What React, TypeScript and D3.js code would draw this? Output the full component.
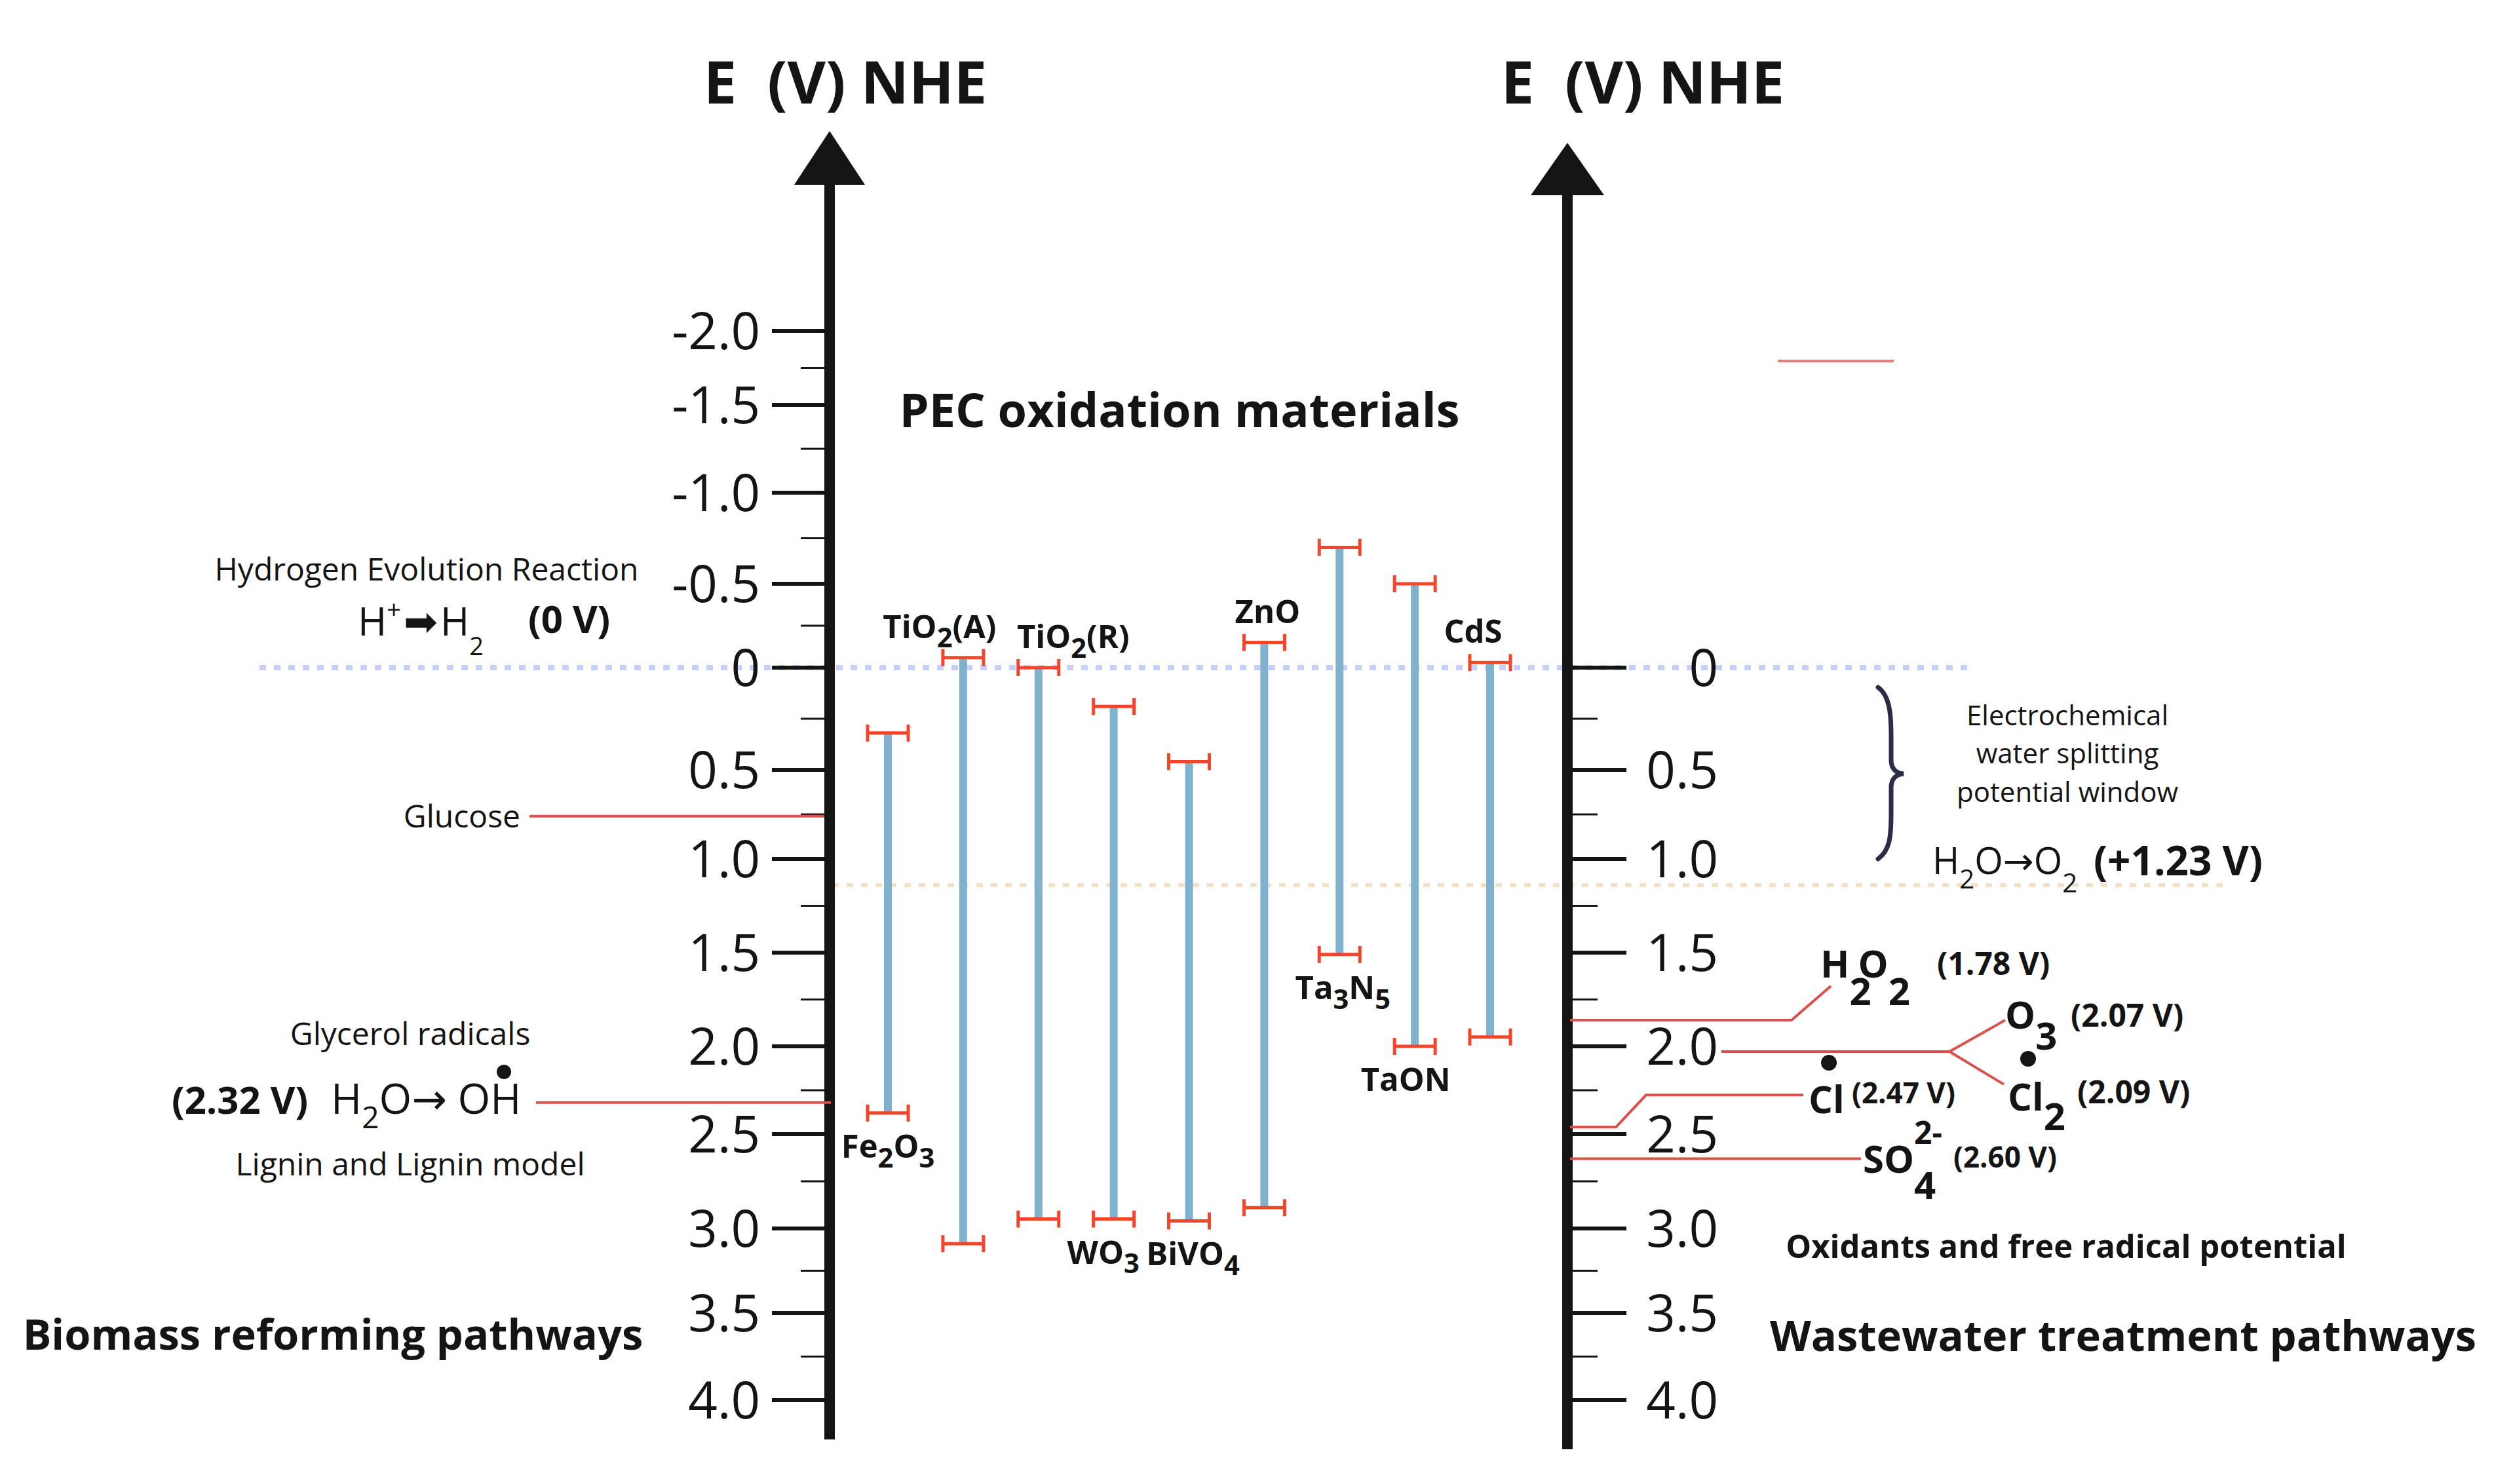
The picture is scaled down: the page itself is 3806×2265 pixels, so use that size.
import React from "react";
import * as d3 from "d3";

// ---------- data ----------
const tickValues = [-2, -1.5, -1, -0.5, 0, 0.5, 1, 1.5, 2, 2.5, 3, 3.5, 4];
const leftTickLabels = ["-2.0", "-1.5", "-1.0", "-0.5", "0", "0.5", "1.0", "1.5", "2.0", "2.5", "3.0", "3.5", "4.0"];
const leftMinorTicks = [-1.75, -1.25, -0.75, -0.25, 0.25, 0.75, 1.25, 1.75, 2.25, 2.75, 3.25, 3.75];
const rightTickValues = [0, 0.5, 1, 1.5, 2, 2.5, 3, 3.5, 4];
const rightTickLabels = ["0", "0.5", "1.0", "1.5", "2.0", "2.5", "3.0", "3.5", "4.0"];
const rightMinorTicks = [0.25, 0.75, 1.25, 1.75, 2.25, 2.75, 3.25, 3.75];

const materials = ["Fe_{2}O_{3}", "TiO_{2}(A)", "TiO_{2}(R)", "WO_{3}", "BiVO_{4}", "ZnO", "Ta_{3}N_{5}", "TaON", "CdS"];
const conductionBand = [0.32, -0.06, 0.0, 0.19, 0.46, -0.15, -0.7, -0.5, -0.03];
const valenceBand = [2.38, 3.09, 2.95, 2.95, 2.96, 2.89, 1.51, 2.0, 1.95];

const biomassSubstrates = ["Glucose", "Glycerol radicals"];
const biomassLevels = [0.76, 2.32];

const oxidants = ["H_{2}O_{2}", "O_{3}", "Cl_{2}", "Cl", "SO_{4}"];
const oxidantPotentialLabels = ["(1.78 V)", "(2.07 V)", "(2.09 V)", "(2.47 V)", "(2.60 V)"];
const oxidantLevels = [1.86, 2.03, 2.03, 2.46, 2.63];

const referenceLevels = [0, 1.14]; // HER line, OER line (as drawn)

// ---------- helpers ----------
const FONT = "'Open Sans', 'Noto Sans', 'DejaVu Sans', sans-serif";
const INK = "#141414";

type Part = { t: string; k: "n" | "sub" | "sup" };
function parseChem(s: string): Part[] {
  const out: Part[] = [];
  const re = /([_^])\{([^}]*)\}/g;
  let last = 0;
  let m: RegExpExecArray | null;
  while ((m = re.exec(s))) {
    if (m.index > last) out.push({ t: s.slice(last, m.index), k: "n" });
    out.push({ t: m[2], k: m[1] === "_" ? "sub" : "sup" });
    last = re.lastIndex;
  }
  if (last < s.length) out.push({ t: s.slice(last), k: "n" });
  return out;
}

function Chem(props: {
  x: number; y: number; s: string; size: number; weight?: number | string;
  anchor?: string; subSize?: number; drop?: number; rise?: number; kern?: number; fill?: string;
}) {
  const { x, y, s, size, weight = 700, anchor = "start", fill = INK } = props;
  const subSize = props.subSize ?? size * 0.85;
  const drop = props.drop ?? size * 0.3;
  const rise = props.rise ?? size * 0.45;
  const kern = props.kern ?? 0;
  const parts = parseChem(s);
  let cur = 0;
  return (
    <text x={x} y={y} fontSize={size} fontWeight={weight} textAnchor={anchor as any} fill={fill} fontFamily={FONT}>
      {parts.map((p, i) => {
        const target = p.k === "sub" ? drop : p.k === "sup" ? -rise : 0;
        const dy = target - cur;
        cur = target;
        const dx = p.k === "n" && i > 0 && parts[i - 1].k === "sub" ? kern : 0;
        return (
          <tspan key={i} dy={dy || undefined} dx={dx || undefined} fontSize={p.k === "n" ? size : subSize}>
            {p.t}
          </tspan>
        );
      })}
    </text>
  );
}

export default function App() {
  const W = 3806, H = 2265;
  const LX = 1266; // left axis x
  const RX = 2392; // right axis x
  // hand-drawn axis stops (non-uniform spacing of the original figure)
  const axisStops = [505, 618, 752, 891, 1019, 1175, 1311, 1454, 1597, 1731, 1875, 2004, 2137];
  const y = d3.scaleLinear().domain(tickValues).range(axisStops);
  const x = d3.scalePoint<string>().domain(materials).range([1355, 2274]);

  const labelAbove = new Set(["TiO_{2}(A)", "TiO_{2}(R)", "ZnO", "CdS"]);
  const labelDx: Record<string, number> = {
    "TiO_{2}(A)": -36, "TiO_{2}(R)": 53, "WO_{3}": -16, "BiVO_{4}": 6, "ZnO": 5,
    "Ta_{3}N_{5}": 5, "TaON": -14, "CdS": -26,
  };

  const red = "#d9504c";
  const capRed = "#f2452c";
  const barBlue = "#80b2cf";

  const capHalf = 31;
  const capTick = 13;

  const line = d3.line<[number, number]>();

  const yH2O2 = y(oxidantLevels[0]);
  const yFork = y(oxidantLevels[1]);
  const yCl = y(oxidantLevels[3]);
  const ySO4 = y(oxidantLevels[4]);

  return (
    <svg width={W} height={H} style={{ position: "absolute", left: 0, top: 0, background: "#fff" }} fontFamily={FONT}>
      <rect x={0} y={0} width={W} height={H} fill="#ffffff" />

      {/* reference dotted lines */}
      <line x1={396} x2={3003} y1={y(referenceLevels[0])} y2={y(referenceLevels[0])} stroke="#c6cff8" strokeWidth={8} strokeDasharray="10 12" />
      <line x1={1270} x2={3400} y1={y(referenceLevels[1])} y2={y(referenceLevels[1])} stroke="#f1e1c7" strokeWidth={6} strokeDasharray="10 12" />

      {/* titles */}
      <text x={1290} y={158} fontSize={90} fontWeight={700} textAnchor="middle" fill={INK} style={{ whiteSpace: "pre" }}>{"E  (V) NHE"}</text>
      <text x={2507} y={158} fontSize={90} fontWeight={700} textAnchor="middle" fill={INK} style={{ whiteSpace: "pre" }}>{"E  (V) NHE"}</text>
      <text x={1800} y={652} fontSize={72} fontWeight={700} textAnchor="middle" fill={INK}>PEC oxidation materials</text>

      {/* left axis */}
      <line x1={LX} x2={LX} y1={280} y2={2197} stroke={INK} strokeWidth={16} />
      <path d={`M${LX},200 L${LX - 54},282 L${LX + 54},282 Z`} fill={INK} />
      {tickValues.map((v, i) => (
        <g key={"lt" + i}>
          <line x1={1178} x2={LX} y1={y(v)} y2={y(v)} stroke={INK} strokeWidth={6} />
          <text x={1160} y={y(v)} dy="0.36em" fontSize={78} textAnchor="end" fill={INK}>{leftTickLabels[i]}</text>
        </g>
      ))}
      {leftMinorTicks.map((v, i) => (
        <line key={"lm" + i} x1={1222} x2={LX} y1={y(v)} y2={y(v)} stroke={INK} strokeWidth={3} />
      ))}

      {/* right axis */}
      <line x1={RX} x2={RX} y1={296} y2={2212} stroke={INK} strokeWidth={16} />
      <path d={`M${RX},218 L${RX - 56},298 L${RX + 56},298 Z`} fill={INK} />
      {rightTickValues.map((v, i) => (
        <g key={"rt" + i}>
          <line x1={RX} x2={2482} y1={y(v)} y2={y(v)} stroke={INK} strokeWidth={6} />
          <text x={2622} y={y(v)} dy="0.36em" fontSize={78} textAnchor="end" fill={INK}>{rightTickLabels[i]}</text>
        </g>
      ))}
      {rightMinorTicks.map((v, i) => (
        <line key={"rm" + i} x1={RX} x2={2438} y1={y(v)} y2={y(v)} stroke={INK} strokeWidth={3} />
      ))}

      {/* material band edges */}
      {materials.map((m, i) => {
        const cx = x(m) as number;
        const yt = y(conductionBand[i]);
        const yb = y(valenceBand[i]);
        const above = labelAbove.has(m);
        const lx = cx + (labelDx[m] ?? 0);
        return (
          <g key={m}>
            <line x1={cx} x2={cx} y1={yt} y2={yb} stroke={barBlue} strokeWidth={12} />
            {[yt, yb].map((yy, j) => (
              <g key={j} stroke={capRed} strokeWidth={5}>
                <line x1={cx - capHalf} x2={cx + capHalf} y1={yy} y2={yy} />
                <line x1={cx - capHalf} x2={cx - capHalf} y1={yy - capTick} y2={yy + capTick} />
                <line x1={cx + capHalf} x2={cx + capHalf} y1={yy - capTick} y2={yy + capTick} />
              </g>
            ))}
            <Chem x={lx} y={above ? yt - 30 : yb + 68} s={m} size={49} anchor="middle" />
          </g>
        );
      })}

      {/* ---- left annotations ---- */}
      <text x={651} y={886} fontSize={48} textAnchor="middle" fill={INK}>Hydrogen Evolution Reaction</text>
      <text x={546} y={970} fontSize={60} fill={INK}>
        H<tspan fontSize={38} dy={-26}>+</tspan>
        <tspan dy={26} dx={4} fontFamily="'DejaVu Sans', sans-serif" fontSize={62}>➡</tspan>
        <tspan dx={4}>H</tspan><tspan fontSize={38} dy={30}>2</tspan>
      </text>
      <text x={806} y={966} fontSize={58} fontWeight={700} fill={INK}>(0 V)</text>

      <text x={794} y={y(biomassLevels[0])} dy="0.36em" fontSize={48} textAnchor="end" fill={INK}>{biomassSubstrates[0]}</text>
      <line x1={808} x2={1258} y1={y(biomassLevels[0])} y2={y(biomassLevels[0])} stroke={red} strokeWidth={4} />

      <text x={626} y={1595} fontSize={48} textAnchor="middle" fill={INK}>{biomassSubstrates[1]}</text>
      <text x={262} y={1700} fontSize={58} fontWeight={700} fill={INK}>(2.32 V)</text>
      <text x={505} y={1700} fontSize={64} fill={INK}>
        H<tspan fontSize={46} dy={22}>2</tspan><tspan dy={-22}>O→ OH</tspan>
      </text>
      <circle cx={769} cy={1636} r={11} fill={INK} />
      <text x={626} y={1794} fontSize={48} textAnchor="middle" fill={INK}>Lignin and Lignin model</text>
      <line x1={818} x2={1268} y1={y(biomassLevels[1])} y2={y(biomassLevels[1])} stroke={red} strokeWidth={4} />

      <text x={508} y={2060} fontSize={65} fontWeight={700} textAnchor="middle" fill={INK}>Biomass reforming pathways</text>

      {/* ---- right annotations ---- */}
      <line x1={2713} x2={2890} y1={551} y2={551} stroke="#ec7b7b" strokeWidth={4} />

      <path d="M2866,1049 C2884,1062 2886,1090 2886,1125 L2886,1160 C2886,1172 2892,1180 2905,1181 C2892,1182 2886,1190 2886,1202 L2886,1240 C2886,1278 2884,1298 2866,1311"
        fill="none" stroke="#2b2d47" strokeWidth={7} strokeLinecap="round" />
      <text x={3155} y={1107} fontSize={42} textAnchor="middle" fill={INK}>Electrochemical</text>
      <text x={3155} y={1165} fontSize={42} textAnchor="middle" fill={INK}>water splitting</text>
      <text x={3155} y={1224} fontSize={42} textAnchor="middle" fill={INK}>potential window</text>
      <text x={2949} y={1334} fontSize={56} fill={INK}>
        H<tspan fontSize={40} dy={22}>2</tspan><tspan dy={-22}>O→O</tspan><tspan fontSize={40} dy={28}>2</tspan>
      </text>
      <text x={3195} y={1336} fontSize={62} fontWeight={700} fill={INK}>(+1.23 V)</text>

      {/* oxidant connectors */}
      <path d={line([[RX + 4, yH2O2], [2734, yH2O2], [2794, yH2O2 - 52]]) as string} fill="none" stroke={red} strokeWidth={4} />
      <path d={line([[2627, yFork], [2975, yFork], [3060, yFork - 48]]) as string} fill="none" stroke={red} strokeWidth={4} />
      <path d={line([[2975, yFork], [3058, yFork + 50]]) as string} fill="none" stroke={red} strokeWidth={4} />
      <path d={line([[RX + 4, yCl], [2466, yCl], [2512, yCl - 49], [2752, yCl - 49]]) as string} fill="none" stroke={red} strokeWidth={4} />
      <path d={line([[RX + 4, ySO4], [2840, ySO4]]) as string} fill="none" stroke={red} strokeWidth={4} />

      {/* oxidant labels */}
      <Chem x={2778} y={1492} s={oxidants[0]} size={58} subSize={58} drop={42} kern={-20} />
      <text x={2956} y={1488} fontSize={48} fontWeight={700} fill={INK}>{oxidantPotentialLabels[0]}</text>

      <Chem x={3060} y={1570} s={oxidants[1]} size={58} subSize={58} drop={32} />
      <text x={3160} y={1567} fontSize={48} fontWeight={700} fill={INK}>{oxidantPotentialLabels[1]}</text>

      <circle cx={3095} cy={1616} r={12} fill={INK} />
      <Chem x={3064} y={1695} s={oxidants[2]} size={58} subSize={58} drop={30} />
      <text x={3170} y={1684} fontSize={48} fontWeight={700} fill={INK}>{oxidantPotentialLabels[2]}</text>

      <circle cx={2791} cy={1622} r={12} fill={INK} />
      <Chem x={2760} y={1699} s={oxidants[3]} size={58} />
      <text x={2826} y={1684} fontSize={44} fontWeight={700} fill={INK}>{oxidantPotentialLabels[3]}</text>

      <Chem x={2843} y={1790} s={oxidants[4]} size={58} subSize={58} drop={40} />
      <text x={2921} y={1746} fontSize={48} fontWeight={700} fill={INK}>2-</text>
      <text x={2981} y={1782} fontSize={44} fontWeight={700} fill={INK}>{oxidantPotentialLabels[4]}</text>

      <text x={3153} y={1920} fontSize={49} fontWeight={700} textAnchor="middle" fill={INK}>Oxidants and free radical potential</text>
      <text x={3240} y={2062} fontSize={65} fontWeight={700} textAnchor="middle" fill={INK}>Wastewater treatment pathways</text>
    </svg>
  );
}
